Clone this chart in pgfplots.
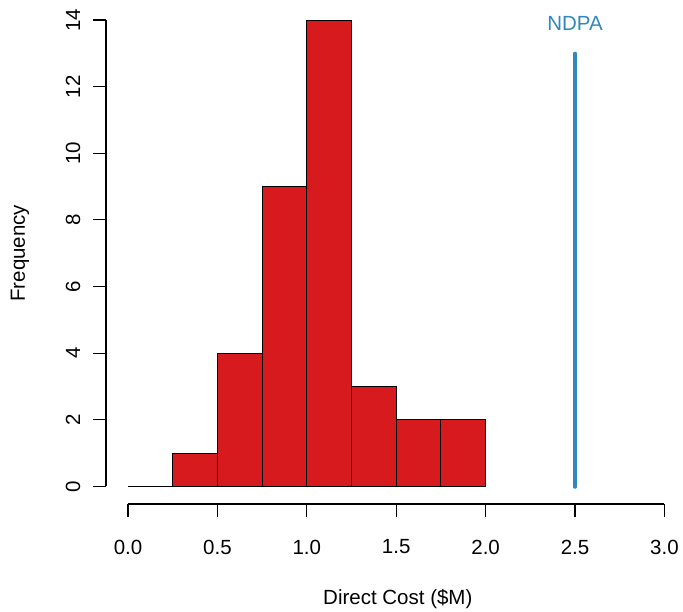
\documentclass[border=0pt]{standalone}
\usepackage{pgfplots}
\pgfplotsset{compat=1.18}
\usepackage{fontspec}
\setmainfont{Liberation Sans}
\definecolor{histred}{RGB}{215,26,30}
\definecolor{ndpablue}{RGB}{50,136,189}
\begin{document}
\fontsize{20.5bp}{24bp}\selectfont
\begin{tikzpicture}[every node/.style={inner sep=0pt}]
\begin{axis}[
  scale only axis,
  width=683bp, height=612bp,
  xmin=-0.7159, xmax=3.1040,
  ymin=-3.7665, ymax=14.601,
  hide axis, clip=false,
]
\path (rel axis cs:0,0) rectangle (rel axis cs:1,1);
% histogram
\addplot[ybar interval, fill=histred, draw=black, line width=0.9bp]
  coordinates {(0,0) (0.25,1) (0.5,4) (0.75,9) (1.0,14) (1.25,3) (1.5,2) (1.75,2) (2.0,2)};
% NDPA line
\addplot[ndpablue, line width=4.6bp, line cap=round] coordinates {(2.5,0) (2.5,12)};
\addplot[ndpablue, line width=3.3bp, line cap=round] coordinates {(2.5,0) (2.5,13)};
\node[text=ndpablue] at (axis cs:2.5,13.91) {NDPA};
% y axis
\draw[line width=1.1bp] (axis cs:-0.1230,0) -- (axis cs:-0.1230,14);
\pgfplotsinvokeforeach{0,2,4,6,8,10,12,14}{
  \draw[line width=1.1bp] (axis cs:-0.1230,#1) -- ([xshift=-13bp]axis cs:-0.1230,#1);
  \node[rotate=90] at ([xshift=-33bp]axis cs:-0.1230,#1) {#1};
}
% x axis
\draw[line width=1.1bp] (axis cs:0,-0.525) -- (axis cs:3,-0.525);
\pgfplotsinvokeforeach{0.0,0.5,1.0,1.5,2.0,2.5,3.0}{
  \draw[line width=1.1bp] (axis cs:#1,-0.525) -- ([yshift=-13bp]axis cs:#1,-0.525);
  \node at ([yshift=-43bp]axis cs:#1,-0.525) {#1};
}
\node at (axis cs:1.509,-3.376) {Direct Cost (\$M)};
\node[rotate=90] at (axis cs:-0.604,7) {Frequency};
\end{axis}
\end{tikzpicture}
\end{document}
